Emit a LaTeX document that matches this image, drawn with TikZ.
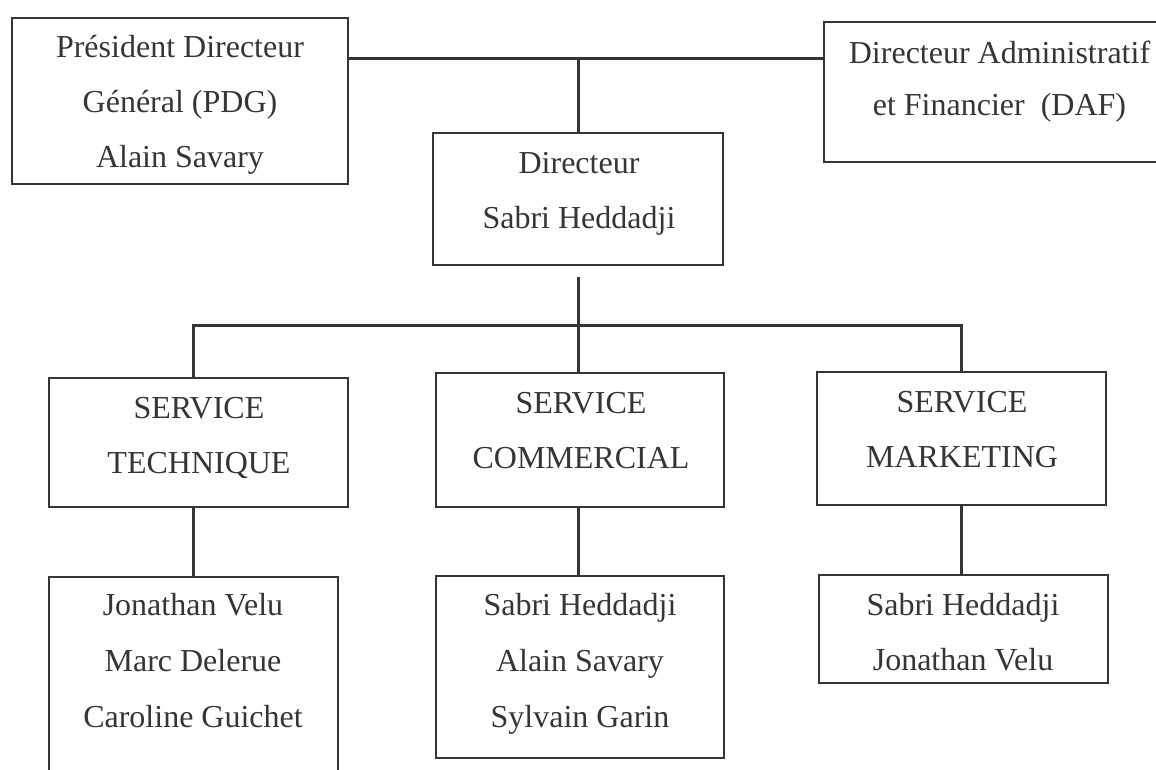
\documentclass[tikz,border=0pt]{standalone}
\usepackage{fontspec}
\setmainfont{Liberation Serif}
\definecolor{ink}{HTML}{353535}
\begin{document}
\begin{tikzpicture}[x=1pt,y=-1pt,
  box/.style={draw=ink, line width=2pt, rectangle, inner sep=0pt},
  txt/.style={anchor=north, inner sep=0pt, align=center, text=ink,
    font=\fontsize{32}{55}\selectfont},
  link/.style={draw=ink, line width=3pt}]
\path[use as bounding box, clip] (0,0) rectangle (1156,769);
% boxes
\node[box, minimum width=336pt, minimum height=166pt] (pdg) at (180,101) {};
\node[box, minimum width=351pt, minimum height=140pt] (daf) at (999.5,92) {};
\node[box, minimum width=290pt, minimum height=132pt] (dir) at (578,199) {};
\node[box, minimum width=299pt, minimum height=129pt] (tech) at (198.5,442.5) {};
\node[box, minimum width=288pt, minimum height=134pt] (comm) at (580,440) {};
\node[box, minimum width=289pt, minimum height=133pt] (mkt) at (961.5,438.5) {};
\node[box, minimum width=289pt, minimum height=240pt] (ntech) at (193.5,697) {};
\node[box, minimum width=288pt, minimum height=182pt] (ncomm) at (580,667) {};
\node[box, minimum width=289pt, minimum height=108pt] (nmkt) at (963.5,629) {};
% texts
\node[txt] (tpdg) at (180,33) {\rule{0pt}{24pt}Président Directeur\\Général (PDG)\\Alain Savary};
\node[txt, font=\fontsize{32}{52}\selectfont] (tdaf) at (999.5,39) {\rule{0pt}{24pt}Directeur Administratif\\et Financier\ \ (DAF)};
\node[txt] (tdir) at (579,149) {\rule{0pt}{24pt}Directeur\\Sabri Heddadji};
\node[txt] (ttech) at (199,394) {\rule{0pt}{24pt}SERVICE\\TECHNIQUE};
\node[txt] (tcomm) at (581,389) {\rule{0pt}{24pt}SERVICE\\COMMERCIAL};
\node[txt] (tmkt) at (962,388) {\rule{0pt}{24pt}SERVICE\\MARKETING};
\node[txt, font=\fontsize{32}{56}\selectfont] (tntech) at (193,591) {\rule{0pt}{24pt}Jonathan Velu\\Marc Delerue\\Caroline Guichet};
\node[txt, font=\fontsize{32}{56}\selectfont] (tncomm) at (580,591) {\rule{0pt}{24pt}Sabri Heddadji\\Alain Savary\\Sylvain Garin};
\node[txt] (tnmkt) at (963,591) {\rule{0pt}{24pt}Sabri Heddadji\\Jonathan Velu};
% connectors
\coordinate (top) at (578,58);
\coordinate (dirlow) at (578,277);
\coordinate (busl) at (193,325);
\coordinate (busm) at (578,325);
\coordinate (busr) at (961,325);
\draw[link] (pdg.east |- top) -- (daf.west |- top);
\draw[link] (top) -- (top |- dir.north);
\draw[link] (dirlow) -- (busm);
\draw[link, line cap=rect] (busl |- tech.north) -- (busl) -- (busr) -- (busr |- mkt.north);
\draw[link] (busm) -- (busm |- comm.north);
\draw[link] (busl |- tech.south) -- (busl |- ntech.north);
\draw[link] (busm |- comm.south) -- (busm |- ncomm.north);
\draw[link] (busr |- mkt.south) -- (busr |- nmkt.north);
\end{tikzpicture}
\end{document}
